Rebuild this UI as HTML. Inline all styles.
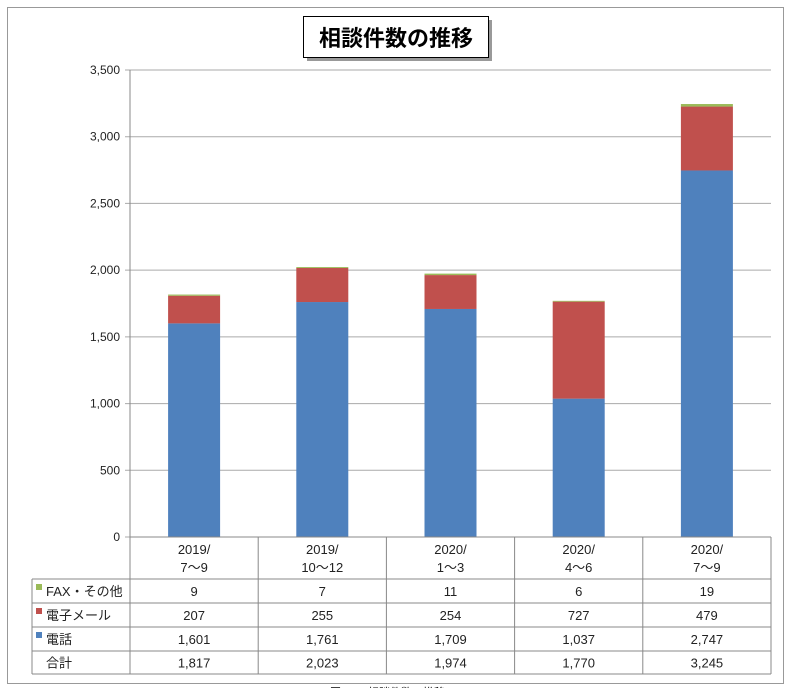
<!DOCTYPE html>
<html><head><meta charset="utf-8"><style>
body{margin:0;background:#fff;}
svg{display:block;font-family:"Liberation Sans","Noto Sans CJK JP",sans-serif;}
</style></head><body>
<svg id="c" width="800" height="688">
<rect x="7.5" y="7.5" width="776" height="676" fill="#fff" stroke="#999"/>
<rect x="307" y="20" width="185" height="41" fill="#555" opacity="0.6"/>
<rect x="303.5" y="16.5" width="185" height="41" fill="#fff" stroke="#000"/>
<text x="396" y="46" text-anchor="middle" font-size="22" font-weight="bold">相談件数の推移</text>
<g id="grid"></g><g id="bars"></g><g id="tbl"></g>
<text x="330" y="696" font-size="11">図1-1　相談件数の推移</text>
</svg>
<script>
const categories=[["2019/","7～9"],["2019/","10～12"],["2020/","1～3"],["2020/","4～6"],["2020/","7～9"]];
const fax=[9,7,11,6,19];
const mail=[207,255,254,727,479];
const phone=[1601,1761,1709,1037,2747];
const total=[1817,2023,1974,1770,3245];
const yTicks=[0,500,1000,1500,2000,2500,3000,3500];
const seriesNames=["FAX・その他","電子メール","電話","合計"];
const NS="http://www.w3.org/2000/svg";
const X0=130,X1=771,Y0=537,Y1=70,YMAX=3500;
const cw=(X1-X0)/categories.length;
const y=v=>Y0-(v/YMAX)*(Y0-Y1);
const xc=i=>X0+cw*(i+0.5);
function mk(p,t,a,txt){const e=document.createElementNS(NS,t);for(const k in a)e.setAttribute(k,a[k]);if(txt!=null)e.textContent=txt;p.appendChild(e);return e;}
const g=document.getElementById('grid'),b=document.getElementById('bars'),tb=document.getElementById('tbl');
yTicks.forEach(v=>{
 const l=mk(g,'line',{x1:X0-5,x2:X1,y1:y(v),y2:y(v),stroke:'#aaa'});
 
 
 const t=mk(g,'text',{x:X0-10,y:y(v)+4,'text-anchor':'end','font-size':12,fill:'#222'},v.toLocaleString('en-US'));
 
 
});
const ax=mk(g,'line',{x1:X0,x2:X0,y1:Y1,y2:Y0,stroke:'#888'});


const colors=['#9bbb59','#c0504d','#4f81bd'];
const bw=52;
categories.forEach((c,i)=>{
 const segs=[[phone[i],colors[2],'bar-phone'],[mail[i],colors[1],'bar-mail'],[fax[i],colors[0],'bar-fax']];
 let base=0;
 segs.forEach(s=>{
  const r=mk(b,'rect',{x:xc(i)-bw/2,y:y(base+s[0]),width:bw,height:y(base)-y(base+s[0]),fill:s[1]});
  
  
  base+=s[0];
 });
});
// table
const TL=32,rows=[537,579,603,627,651,674];
const hl=mk(tb,'line',{x1:X0,x2:X1,y1:rows[0],y2:rows[0],stroke:'#888'});
for(let r=1;r<rows.length;r++)mk(tb,'line',{x1:TL,x2:X1,y1:rows[r],y2:rows[r],stroke:'#888'});
mk(tb,'line',{x1:TL,x2:TL,y1:rows[1],y2:rows[5],stroke:'#888'});
for(let i=0;i<=categories.length;i++)mk(tb,'line',{x1:X0+cw*i,x2:X0+cw*i,y1:rows[0],y2:rows[5],stroke:'#888'});
categories.forEach((c,i)=>{
 const t1=mk(tb,'text',{x:xc(i),y:554,'text-anchor':'middle','font-size':13,fill:'#222'},c[0]);
 
 
 mk(tb,'text',{x:xc(i),y:572,'text-anchor':'middle','font-size':13,fill:'#222'},c[1]);
});
const data=[fax,mail,phone,total];
data.forEach((arr,r)=>{
 const cy=(rows[r+1]+rows[r+2])/2+5;
 if(r<3){const k=mk(tb,'rect',{x:36,y:cy-12,width:6,height:6,fill:colors[r]});
  
  }
 const n=mk(tb,'text',{x:46,y:cy,'font-size':13,fill:'#222'},seriesNames[r]);
 
 
 arr.forEach((v,i)=>{
  const t=mk(tb,'text',{x:xc(i),y:cy,'text-anchor':'middle','font-size':13,fill:'#222'},v.toLocaleString('en-US'));
  
  
 });
});
</script>
</body></html>
